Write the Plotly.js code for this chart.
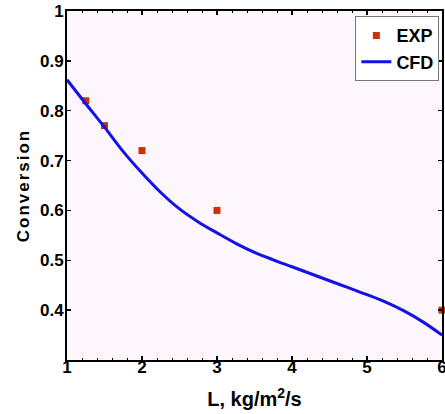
<!DOCTYPE html>
<html><head><meta charset="utf-8">
<script src="https://cdn.plot.ly/plotly-3.0.1.min.js"></script>
<style>html,body{margin:0;padding:0;background:#fff;}#c{width:445px;height:414px;}
.ytitle{letter-spacing:2px;}</style>
</head><body><div id="c"></div>
<script>
const expL = [1.25, 1.5, 2, 3, 6];
const expConv = [0.82, 0.77, 0.72, 0.60, 0.40];
const cfdL = [1, 1.25, 1.5, 1.75, 2, 2.25, 2.5, 2.75, 3, 3.25, 3.5, 3.75, 4, 4.25, 4.5, 4.75, 5, 5.25, 5.5, 5.75, 6];
const cfdConv = [0.862, 0.814, 0.767, 0.718, 0.675, 0.636, 0.603, 0.577, 0.555, 0.534, 0.516, 0.501, 0.487, 0.473, 0.459, 0.445, 0.431, 0.416, 0.398, 0.376, 0.350];
const yTicks = [0.4, 0.5, 0.6, 0.7, 0.8, 0.9, 1];
const yTickText = ['0.4', '0.5', '0.6', '0.7', '0.8', '0.9', '1'];
const xTicks = [1, 2, 3, 4, 5, 6];

const fam = 'Liberation Sans, Arial, sans-serif';
const traces = [
  {x: expL, y: expConv, name: 'EXP', mode: 'markers', type: 'scatter',
   marker: {symbol: 'square', size: 7, color: '#cc3300'}, cliponaxis: false},
  {x: cfdL, y: cfdConv, name: 'CFD', mode: 'lines', type: 'scatter',
   line: {color: '#1212e6', width: 3, shape: 'spline'}}
];
const layout = {
  width: 445, height: 414,
  margin: {l: 67, r: 3, t: 11, b: 54},
  paper_bgcolor: '#ffffff', plot_bgcolor: '#fdf6fd',
  font: {family: fam, size: 16, color: '#000'},
  showlegend: true,
  legend: {x: 0.993, y: 0.985, xanchor: 'right', yanchor: 'top', bgcolor: '#ffffff',
           bordercolor: '#777', borderwidth: 1, font: {family: fam, size: 18, color: '#000', weight: 'bold'},
           tracegroupgap: 0, itemwidth: 30},
  xaxis: {range: [1, 6], tickvals: xTicks, showgrid: false, zeroline: false,
          showline: true, linecolor: '#000', linewidth: 2, mirror: 'ticks',
          ticks: 'inside', ticklen: 4, tickwidth: 1.5, tickcolor: '#000',
          ticklabeloverflow: 'allow', ticklabelstandoff: -9,
          minor: {dtick: 0.2, ticks: 'inside', ticklen: 2, tickwidth: 1, tickcolor: '#000'},
          tickfont: {family: fam, size: 17, weight: 'bold'},
          title: {text: 'L, kg/m<sup>2</sup>/s', font: {family: fam, size: 20, weight: 'bold'}, standoff: 16}},
  yaxis: {range: [0.3, 1], tickvals: yTicks, ticktext: yTickText, showgrid: false, zeroline: false,
          showline: true, linecolor: '#000', linewidth: 2, mirror: 'ticks',
          ticks: 'inside', ticklen: 4, tickwidth: 1.5, tickcolor: '#000',
          ticklabeloverflow: 'allow', ticklabelstandoff: -2,
          tickfont: {family: fam, size: 17, weight: 'bold'},
          title: {text: 'Conversion', font: {family: fam, size: 17, weight: 'bold'}, standoff: 6}}
};
Plotly.newPlot('c', traces, layout, {displayModeBar: false, staticPlot: true});
</script></body></html>
